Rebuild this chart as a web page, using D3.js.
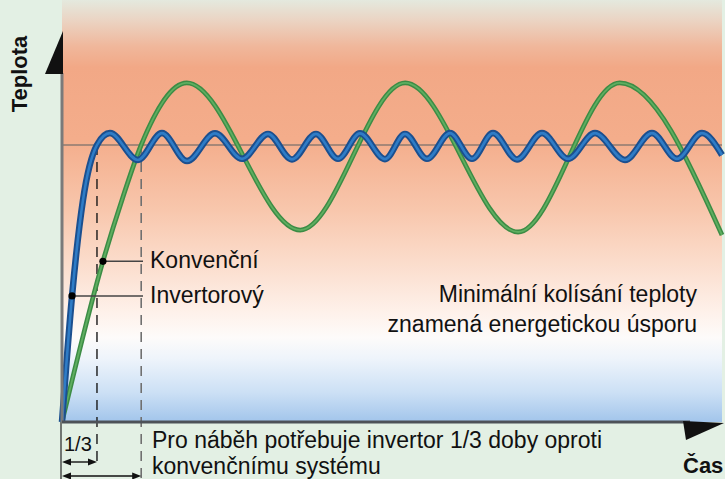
<!DOCTYPE html>
<html><head><meta charset="utf-8">
<script src="https://cdn.jsdelivr.net/npm/d3@7"></script>
<style>html,body{margin:0;padding:0;background:#e3f0e4;overflow:hidden} svg{display:block}</style>
</head><body><svg id="c" width="725" height="479"></svg>
<script>
// ---- data (time in % of shown span, temperature in % of set temperature) ----
const timeDomain = [0, 100];
const tempDomain = [0, 100];
const setTemperature = 100;

const conventionalTime = [0, 6.2, 9.2, 12, 18.9, 36.1, 52, 69.1, 84.5, 100];
const conventionalTemp = [0, 58, 81, 100, 122.4, 69.3, 122.4, 68.6, 122.4, 67.5];

const inverterTime = [0, 1.52, 3.18, 5.3, 7.27, 11.5, 15.15, 18.94, 23.18, 27.27, 31.21, 34.85, 38.48, 41.82, 45.15, 48.94, 51.97, 55.3, 58.79, 62.12, 65.3, 68.94, 72.73, 76.67, 80.76, 85.3, 89.39, 93.18, 96.97, 100];
const inverterTemp = [0, 45.5, 80.1, 100, 104.3, 94.6, 104.3, 94.2, 104.2, 95.0, 104.0, 94.8, 104.0, 95.0, 104.2, 94.9, 104.0, 95.0, 104.3, 95.0, 104.3, 94.8, 104.3, 95.0, 104.3, 94.6, 104.3, 95.0, 104.3, 96.4];

const inverterRiseTime = 5.3;      // inverter reaches set temperature
const conventionalRiseTime = 12;   // conventional system reaches set temperature

const axisLabels = { y: "Teplota", x: "Čas" };
const seriesLabels = ["Konvenční", "Invertorový"];
const noteLines = ["Minimální kolísání teploty", "znamená energetickou úsporu"];
const bottomLines = ["Pro náběh potřebuje invertor 1/3 doby oproti", "konvenčnímu systému"];
const fractionLabel = "1/3";

// ---- drawing ----
const svg = d3.select("#c");
const x = d3.scaleLinear().domain(timeDomain).range([62, 722]);
const y = d3.scaleLinear().domain(tempDomain).range([422, 145]);
const font = "'Liberation Sans', Arial, Helvetica, sans-serif";

const defs = svg.append("defs");
const g = defs.append("linearGradient").attr("id", "bg").attr("x1", 0).attr("y1", 0).attr("x2", 0).attr("y2", 1);
[[0, "#e4e9de"], [0.05, "#ebd3c2"], [0.11, "#f0b79b"], [0.16, "#f2a886"], [0.33, "#f4ad8b"],
 [0.5, "#f8c7ad"], [0.62, "#fbdccb"], [0.74, "#fef1ea"], [0.8, "#fdfbfa"], [0.85, "#eef4fb"],
 [0.93, "#cce0f5"], [1, "#a2c5eb"]].forEach(([o, c]) => g.append("stop").attr("offset", o).attr("stop-color", c));

const plotTop = 0;
svg.append("rect").attr("x", x(timeDomain[0])).attr("y", plotTop)
  .attr("width", x(timeDomain[1]) - x(timeDomain[0])).attr("height", y(0) - plotTop)
  .attr("fill", "url(#bg)");

// set temperature line
svg.append("line").attr("x1", x(0)).attr("x2", x(100)).attr("y1", y(setTemperature)).attr("y2", y(setTemperature))
  .attr("stroke", "#8c7a70").attr("stroke-width", 1.5);

// dashed guide lines
svg.append("line").attr("x1", x(inverterRiseTime)).attr("x2", x(inverterRiseTime))
  .attr("y1", y(setTemperature)).attr("y2", 462)
  .attr("stroke", "#1a1a1a").attr("stroke-width", 1.4).attr("stroke-dasharray", "10,7");
svg.append("line").attr("x1", x(conventionalRiseTime)).attr("x2", x(conventionalRiseTime))
  .attr("y1", y(setTemperature)).attr("y2", 479)
  .attr("stroke", "#707070").attr("stroke-width", 1.6).attr("stroke-dasharray", "10,7");

// curves
const line = d3.line().x(d => x(d[0])).y(d => y(d[1])).curve(d3.curveMonotoneX);
const conv = conventionalTime.map((t, i) => [t, conventionalTemp[i]]);
const inv = inverterTime.map((t, i) => [t, inverterTemp[i]]);

svg.append("path").attr("d", line(conv)).attr("fill", "none").attr("stroke", "#3c8c45").attr("stroke-width", 4.8).attr("stroke-linejoin", "round");
svg.append("path").attr("d", line(conv)).attr("fill", "none").attr("stroke", "#5fae60").attr("stroke-width", 1.8);
svg.append("path").attr("d", line(inv)).attr("fill", "none").attr("stroke", "#1b4f8f").attr("stroke-width", 6.5).attr("stroke-linejoin", "round");
svg.append("path").attr("d", line(inv)).attr("fill", "none").attr("stroke", "#2f7cc6").attr("stroke-width", 2.6);

// axes
const yAxis = svg.append("g").attr("transform", `translate(${x(0)},0)`)
  .call(d3.axisLeft(y).ticks(0).tickSizeOuter(0));
yAxis.select(".domain").attr("stroke", "#7a7a7a").attr("stroke-width", 3);
yAxis.select(".domain").attr("d", `M0,73V${y(0)}`);
const xAxis = svg.append("g").attr("transform", `translate(0,${y(0)})`)
  .call(d3.axisBottom(x).ticks(0).tickSizeOuter(0));
xAxis.select(".domain").attr("stroke", "#4d5258").attr("stroke-width", 3).attr("d", `M${x(0)},0H690`);

// left extension under the axis
svg.append("line").attr("x1", x(0) - 1).attr("x2", x(0) - 1).attr("y1", y(0)).attr("y2", 479)
  .attr("stroke", "#333").attr("stroke-width", 1.3);

// arrow heads
svg.append("path").attr("d", `M${x(0) + 1},31L${x(0) + 1},74L45,74Z`).attr("fill", "#111");
svg.append("path").attr("d", `M683,${y(0) - 1}L724,${y(0) + 1}L686,440Z`).attr("fill", "#111");

// legend pointers
const pointers = [[conv[1], seriesLabels[0]], [inv[1], seriesLabels[1]]];
pointers.forEach(([p, label]) => {
  const px = x(p[0]), py = y(p[1]);
  svg.append("line").attr("x1", px).attr("x2", 143).attr("y1", py).attr("y2", py).attr("stroke", "#444").attr("stroke-width", 1.5);
  svg.append("circle").attr("cx", px).attr("cy", py).attr("r", 3.6).attr("fill", "#000");
  svg.append("text").attr("x", 150).attr("y", py + 7).text(label)
    .attr("font-family", font).attr("font-size", 23).attr("fill", "#111");
});

// note
noteLines.forEach((t, i) => svg.append("text").attr("x", 697).attr("y", 302 + i * 30).attr("text-anchor", "end")
  .text(t).attr("font-family", font).attr("font-size", 23).attr("fill", "#111"));

// bottom text
bottomLines.forEach((t, i) => svg.append("text").attr("x", 152).attr("y", 448 + i * 26)
  .text(t).attr("font-family", font).attr("font-size", 23).attr("fill", "#111"));
svg.append("text").attr("x", 64).attr("y", 451).text(fractionLabel)
  .attr("font-family", font).attr("font-size", 20).attr("fill", "#111");

// double arrows
function dblArrow(x1, x2, yy) {
  svg.append("line").attr("x1", x1 + 4).attr("x2", x2 - 4).attr("y1", yy).attr("y2", yy).attr("stroke", "#111").attr("stroke-width", 1.4);
  svg.append("path").attr("d", `M${x1},${yy}l9,-3.5v7Z`).attr("fill", "#111");
  svg.append("path").attr("d", `M${x2},${yy}l-9,-3.5v7Z`).attr("fill", "#111");
}
dblArrow(x(0), x(inverterRiseTime), 462);
dblArrow(x(0), x(conventionalRiseTime), 476);

// axis titles
svg.append("text").attr("transform", "translate(27,74) rotate(-90)").attr("text-anchor", "middle")
  .text(axisLabels.y).attr("font-family", font).attr("font-weight", "bold").attr("font-size", 22).attr("fill", "#111");
svg.append("text").attr("x", 683).attr("y", 473).text(axisLabels.x)
  .attr("font-family", font).attr("font-weight", "bold").attr("font-size", 22).attr("fill", "#111");
</script></body></html>
